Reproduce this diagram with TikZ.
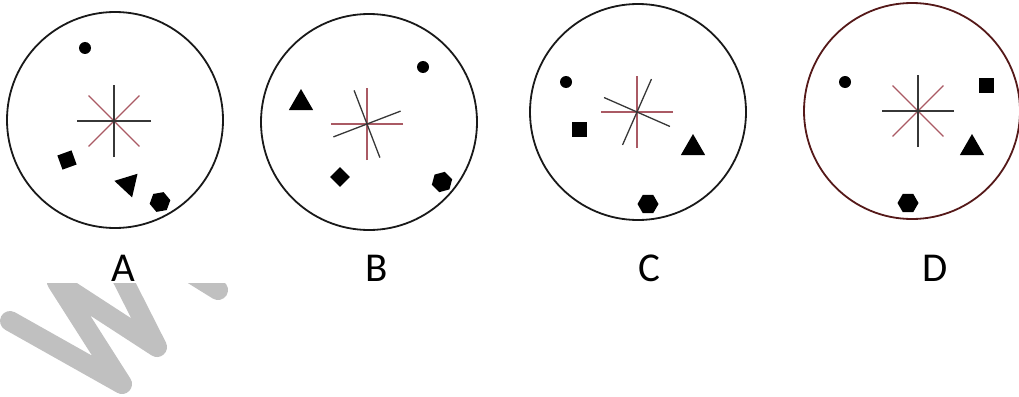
\documentclass[tikz,border=0pt]{standalone}
\usepackage{fontspec}
\setmainfont{Carlito}
\usetikzlibrary{shapes.geometric}
\definecolor{spokered}{RGB}{170,90,100}
\definecolor{spokeblack}{RGB}{55,55,55}
\definecolor{ringred}{RGB}{85,25,25}
\definecolor{wmgrey}{RGB}{192,192,192}
\begin{document}
\begin{tikzpicture}[x=1pt,y=-1pt,
 ring/.style={circle, draw=black!90, line width=1.8pt, inner sep=0pt, minimum size=216pt},
 spk/.style={line width=1.3pt},
 dot/.style={circle, fill=black, inner sep=0pt, minimum size=12pt},
 sq/.style={rectangle, fill=black, inner sep=0pt, minimum size=15pt},
 tri/.style={regular polygon, regular polygon sides=3, fill=black, inner sep=0pt, minimum size=28pt},
 hex/.style={regular polygon, regular polygon sides=6, fill=black, inner sep=0pt, minimum size=21pt},
 lbl/.style={font=\fontsize{41}{41}\selectfont, anchor=base, inner sep=0pt},
 wm/.style={wmgrey, line width=20pt, line cap=round, line join=round}]

\useasboundingbox (0,0) rectangle (1019,396);

% watermark
\begin{scope}
\clip (0,283) rectangle (260,396);
\draw[wm] (10,321) -- (122,384) -- (57,282) -- (157,347) -- (119,272);
\draw[wm] (189,272) -- (218,290);
\end{scope}

% ---------- A ----------
\node[ring] (ringA) at (115,120) {};
\coordinate (cA) at (114,121);
\draw[spk,spokered] (cA) ++(45:36) -- ++(225:72);
\draw[spk,spokered] (cA) ++(135:36) -- ++(315:72);
\draw[spk,spokeblack] (cA) ++(0:37) -- ++(180:74);
\draw[spk,spokeblack] (cA) ++(90:36) -- ++(270:72);
\node[dot] (dotA) at (85,48) {};
\node[sq, rotate=20] (sqA) at (67,160) {};
\node[tri, rotate=197] (triA) at (128,184) {};
\node[hex, rotate=10] (hexA) at (160,202) {};
\node[lbl] (lA) at (123,281) {A};

% ---------- B ----------
\node[ring] (ringB) at (369,122) {};
\coordinate (cB) at (367,124);
\draw[spk,spokered] (cB) ++(0:36) -- ++(180:72);
\draw[spk,spokered] (cB) ++(90:36) -- ++(270:72);
\draw[spk,spokeblack] (cB) ++(-21:36) -- ++(159:72);
\draw[spk,spokeblack] (cB) ++(69:36) -- ++(249:72);
\node[dot] (dotB) at (423,67) {};
\node[tri] (triB) at (301,103) {};
\node[sq, rotate=45, minimum size=14pt] (diaB) at (340,177) {};
\node[hex, rotate=15] (hexB) at (442,182) {};
\node[lbl] (lB) at (377,281) {B};

% ---------- C ----------
\node[ring] (ringC) at (638,112) {};
\coordinate (cC) at (637,112);
\draw[spk,spokered] (cC) ++(0:36) -- ++(180:72);
\draw[spk,spokered] (cC) ++(90:36) -- ++(270:72);
\draw[spk,spokeblack] (cC) ++(23.7:36) -- ++(203.7:72);
\draw[spk,spokeblack] (cC) ++(-66.3:36) -- ++(113.7:72);
\node[dot] (dotC) at (566,82) {};
\node[sq] (sqC) at (579,129) {};
\node[tri] (triC) at (693,148) {};
\node[hex] (hexC) at (648,204) {};
\node[lbl] (lC) at (649,281) {C};

% ---------- D ----------
\node[ring, draw=ringred] (ringD) at (912,111) {};
\coordinate (cD) at (918,111);
\draw[spk,spokered] (cD) ++(45:36) -- ++(225:72);
\draw[spk,spokered] (cD) ++(135:36) -- ++(315:72);
\draw[spk,spokeblack] (cD) ++(0:36) -- ++(180:72);
\draw[spk,spokeblack] (cD) ++(90:36) -- ++(270:72);
\node[dot] (dotD) at (845,82) {};
\node[sq] (sqD) at (986,85) {};
\node[tri] (triD) at (972,148) {};
\node[hex] (hexD) at (908,203) {};
\node[lbl] (lD) at (935,281) {D};
\end{tikzpicture}
\end{document}
